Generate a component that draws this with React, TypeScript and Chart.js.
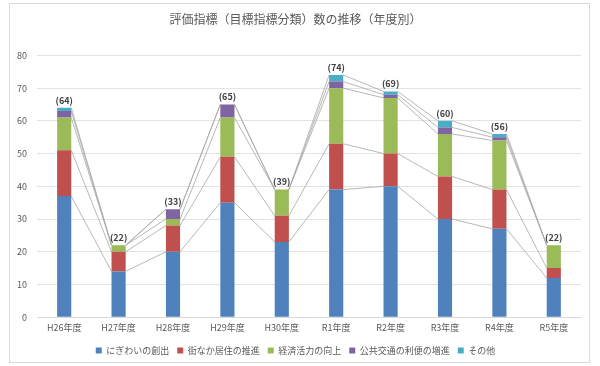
import React, { useEffect, useRef } from "react";
import { Chart, registerables } from "chart.js";

Chart.register(...registerables);

const categories = ["H26年度", "H27年度", "H28年度", "H29年度", "H30年度", "R1年度", "R2年度", "R3年度", "R4年度", "R5年度"];
const seriesNames = ["にぎわいの創出", "街なか居住の推進", "経済活力の向上", "公共交通の利便の増進", "その他"];
const nigiwai = [37, 14, 20, 35, 23, 39, 40, 30, 27, 12];
const kyoju = [14, 6, 8, 14, 8, 14, 10, 13, 12, 3];
const keizai = [10, 2, 2, 12, 8, 17, 17, 13, 15, 7];
const koutsu = [2, 0, 3, 4, 0, 2, 1, 2, 1, 0];
const sonota = [1, 0, 0, 0, 0, 2, 1, 2, 1, 0];
const colors = ["#4F81BD", "#C0504D", "#9BBB59", "#8064A2", "#4BACC6"];
const yTicks = { min: 0, max: 80, step: 10 };

const FONT = '"Noto Sans CJK JP", "Noto Sans", sans-serif';

const seriesLinesPlugin = {
  id: "seriesLines",
  beforeDatasetsDraw(chart: any) {
    const ctx = chart.ctx;
    ctx.save();
    ctx.strokeStyle = "#A6A6A6";
    ctx.lineWidth = 0.8;
    chart.data.datasets.forEach((_: any, di: number) => {
      const meta = chart.getDatasetMeta(di);
      for (let i = 0; i < meta.data.length - 1; i++) {
        const a = meta.data[i];
        const b = meta.data[i + 1];
        ctx.beginPath();
        ctx.moveTo(a.x + a.width / 2, a.y);
        ctx.lineTo(b.x - b.width / 2, b.y);
        ctx.stroke();
      }
    });
    ctx.restore();
  },
};

const totalsPlugin = {
  id: "totals",
  afterDatasetsDraw(chart: any) {
    const ctx = chart.ctx;
    const n = chart.data.labels.length;
    const last = chart.getDatasetMeta(chart.data.datasets.length - 1);
    ctx.save();
    ctx.fillStyle = "#404040";
    ctx.font = `bold 9px ${FONT}`;
    ctx.textAlign = "center";
    ctx.textBaseline = "bottom";
    for (let i = 0; i < n; i++) {
      let total = 0;
      chart.data.datasets.forEach((d: any) => (total += d.data[i]));
      const el = last.data[i];
      ctx.fillText(`(${total})`, el.x, el.y - 3);
    }
    ctx.restore();
  },
};

export default function App() {
  const ref = useRef<HTMLCanvasElement>(null);
  useEffect(() => {
    if (!ref.current) return;
    const values = [nigiwai, kyoju, keizai, koutsu, sonota];
    const chart = new Chart(ref.current, {
      type: "bar",
      data: {
        labels: categories,
        datasets: values.map((v, i) => ({
          label: seriesNames[i],
          data: v,
          backgroundColor: colors[i],
          borderWidth: 0,
          categoryPercentage: 1,
          barPercentage: 0.26,
        })),
      },
      options: {
        animation: false,
        responsive: false,
        maintainAspectRatio: false,
        layout: { padding: { left: 0, right: 8, top: 0, bottom: 3 } },
        plugins: {
          title: {
            display: true,
            text: "評価指標（目標指標分類）数の推移（年度別）",
            color: "#595959",
            font: { family: FONT, size: 12, weight: "normal" },
            padding: { top: 8, bottom: 29 },
          },
          legend: {
            position: "bottom",
            labels: {
              boxWidth: 6,
              boxHeight: 6,
              color: "#595959",
              font: { family: FONT, size: 9 },
              padding: 8,
            },
          },
          tooltip: { enabled: false },
        },
        scales: {
          x: {
            stacked: true,
            grid: { display: false, drawTicks: false },
            border: { display: true, color: "#D9D9D9" },
            ticks: { color: "#595959", font: { family: FONT, size: 9 }, padding: 5, maxRotation: 0 },
          },
          y: {
            stacked: true,
            min: yTicks.min,
            max: yTicks.max,
            grid: { color: "#E3E3E3", drawTicks: false },
            border: { display: false },
            ticks: { stepSize: yTicks.step, color: "#595959", font: { family: FONT, size: 9 }, padding: 10 },
            afterFit: (s: any) => {
              s.width = 27;
            },
          },
        },
      },
      plugins: [seriesLinesPlugin, totalsPlugin],
    });
    return () => chart.destroy();
  }, []);
  return (
    <div style={{ position: "absolute", left: 9, top: 3, width: 581, height: 360 }}>
      <div
        style={{
          position: "absolute",
          left: 0,
          top: 0,
          width: 579,
          height: 358,
          border: "1px solid #D9D9D9",
          background: "#fff",
        }}
      />
      <canvas
        ref={ref}
        width={579}
        height={364}
        style={{ display: "block", position: "absolute", left: 1, top: 1 }}
      />
    </div>
  );
}
